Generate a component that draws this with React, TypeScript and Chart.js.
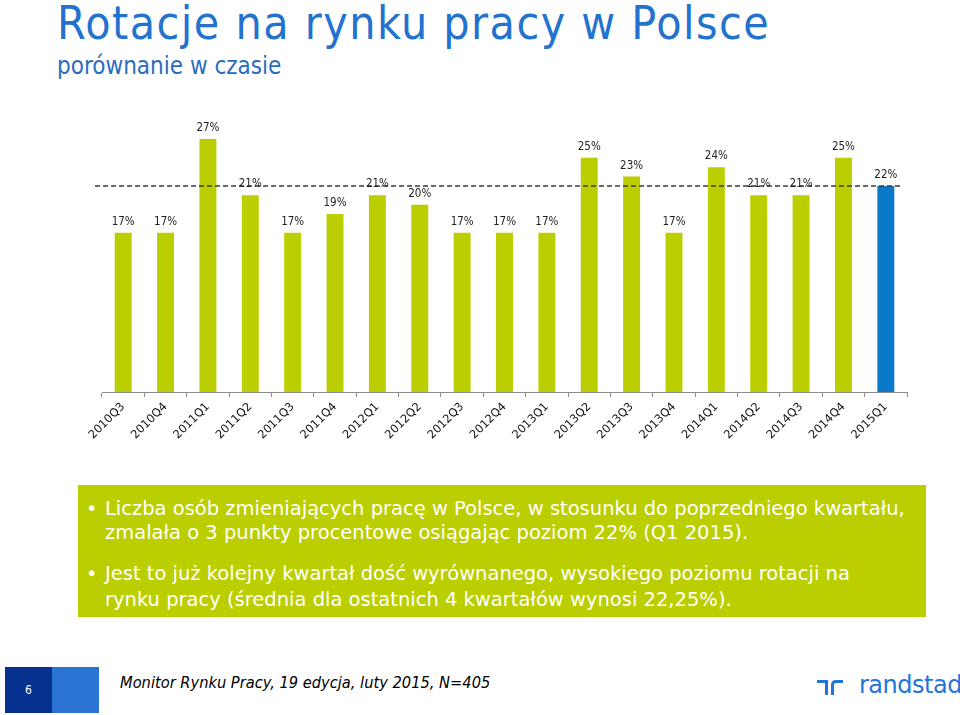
import React, { useEffect, useRef } from 'react';
import { Chart, registerables } from 'chart.js';

Chart.register(...registerables);

const categories = [
  '2010Q3', '2010Q4', '2011Q1', '2011Q2', '2011Q3', '2011Q4', '2012Q1', '2012Q2',
  '2012Q3', '2012Q4', '2013Q1', '2013Q2', '2013Q3', '2013Q4', '2014Q1', '2014Q2',
  '2014Q3', '2014Q4', '2015Q1',
];
const values = [17, 17, 27, 21, 17, 19, 21, 20, 17, 17, 17, 25, 23, 17, 24, 21, 21, 25, 22];
const highlighted = ['2015Q1'];
const averageLine = 22;

const GREEN = '#BBCE00';
const BLUE = '#0B79C9';
const FONT = '"DejaVu Sans Condensed", "DejaVu Sans", sans-serif';
const FONT_WIDE = '"DejaVu Sans", sans-serif';

const labelPlugin = {
  id: 'valueLabels',
  afterDatasetsDraw(chart: any) {
    const { ctx, chartArea, scales } = chart;
    const y = scales.y.getPixelForValue(averageLine);
    ctx.save();
    ctx.strokeStyle = '#3a3a3a';
    ctx.lineWidth = 1.5;
    ctx.setLineDash([5, 3]);
    ctx.beginPath();
    ctx.moveTo(chartArea.left - 7, y);
    ctx.lineTo(chartArea.right - 4, y);
    ctx.stroke();
    ctx.restore();

    const meta = chart.getDatasetMeta(0);
    ctx.save();
    ctx.font = `11.5px ${FONT}`;
    ctx.fillStyle = '#222';
    ctx.textAlign = 'center';
    ctx.textBaseline = 'alphabetic';
    meta.data.forEach((bar: any, i: number) => {
      ctx.fillText(`${values[i]}%`, bar.x, bar.y - 8);
    });
    ctx.restore();
  },
};

export default function App() {
  const ref = useRef<HTMLCanvasElement>(null);

  useEffect(() => {
    const chart = new Chart(ref.current as HTMLCanvasElement, {
      type: 'bar',
      data: {
        labels: categories,
        datasets: [
          {
            data: values,
            backgroundColor: categories.map((c) => (highlighted.includes(c) ? BLUE : GREEN)),
            barPercentage: 0.4,
            categoryPercentage: 1,
          },
        ],
      },
      options: {
        responsive: false,
        animation: false,
        devicePixelRatio: 1,
        layout: { padding: { left: 102, right: 53, top: 11, bottom: 0 } },
        plugins: { legend: { display: false }, tooltip: { enabled: false } },
        scales: {
          x: {
            grid: {
              display: true,
              drawOnChartArea: false,
              drawTicks: true,
              tickLength: 5,
              color: '#8c8c8c',
              offset: true,
            },
            border: { display: true, color: '#8c8c8c' },
            ticks: {
              maxRotation: 45,
              minRotation: 45,
              padding: 3,
              color: '#111',
              font: { family: FONT_WIDE, size: 11.5 },
            },
            afterFit: (s: any) => {
              s.height = 68;
            },
          },
          y: { display: false, min: 0, max: 30 },
        },
      },
      plugins: [labelPlugin],
    } as any);
    return () => chart.destroy();
  }, []);

  const lineStyle = (top: number, left: number): React.CSSProperties => ({
    position: 'absolute',
    top,
    left,
    fontSize: 19.5,
    lineHeight: '24px',
    whiteSpace: 'nowrap',
    color: '#fff',
    fontFamily: FONT_WIDE,
  });

  return (
    <div
      style={{
        position: 'absolute',
        left: 0,
        top: 0,
        width: 960,
        height: 715,
        background: '#fff',
        fontFamily: FONT,
        overflow: 'hidden',
      }}
    >
      <div style={{ position: 'absolute', left: 57, top: 0, fontSize: 46, lineHeight: '46px', color: '#2272CE', whiteSpace: 'nowrap', letterSpacing: 1.5 }}>
        Rotacje na rynku pracy w Polsce
      </div>
      <div style={{ position: 'absolute', left: 57, top: 54, fontSize: 24, lineHeight: '24px', color: '#2A6CC0', whiteSpace: 'nowrap' }}>
        porównanie w czasie
      </div>

      <canvas
        ref={ref}
        width={960}
        height={360}
        style={{ position: 'absolute', left: 0, top: 100, width: 960, height: 360 }}
      />

      <div style={{ position: 'absolute', left: 78, top: 485, width: 848, height: 132, background: GREEN }} />
      <div style={lineStyle(497, 86)}>•</div>
      <div style={lineStyle(497, 105)}>Liczba osób zmieniających pracę w Polsce, w stosunku do poprzedniego kwartału,</div>
      <div style={lineStyle(521, 105)}>zmalała o 3 punkty procentowe osiągając poziom 22% (Q1 2015).</div>
      <div style={lineStyle(562, 86)}>•</div>
      <div style={lineStyle(562, 105)}>Jest to już kolejny kwartał dość wyrównanego, wysokiego poziomu rotacji na</div>
      <div style={lineStyle(588, 105)}>rynku pracy (średnia dla ostatnich 4 kwartałów wynosi 22,25%).</div>

      <div style={{ position: 'absolute', left: 5, top: 667, width: 47, height: 46, background: '#06318F' }} />
      <div style={{ position: 'absolute', left: 52, top: 667, width: 47, height: 46, background: '#2A73D3' }} />
      <div style={{ position: 'absolute', left: 5, top: 667, width: 47, height: 46, lineHeight: '46px', textAlign: 'center', color: '#fff', fontSize: 12 }}>
        6
      </div>
      <div style={{ position: 'absolute', left: 120, top: 672, fontSize: 16.3, lineHeight: '22px', fontStyle: 'italic', color: '#000', whiteSpace: 'nowrap' }}>
        Monitor Rynku Pracy, 19 edycja, luty 2015, N=405
      </div>

      <svg style={{ position: 'absolute', left: 815, top: 676 }} width={30} height={22} viewBox="0 0 30 22">
        <path d="M2 4 H13 V19 H10 V7 H2 Z" fill="#2175D9" />
        <path d="M16 19 V9 Q16 4 21 4 H28 V7 H21 Q19 7 19 9 V19 Z" fill="#2175D9" />
      </svg>
      <div style={{ position: 'absolute', left: 859, top: 670, fontSize: 24, lineHeight: '30px', color: '#2175D9', whiteSpace: 'nowrap', fontFamily: FONT_WIDE, letterSpacing: -0.5 }}>
        randstad
      </div>
    </div>
  );
}
